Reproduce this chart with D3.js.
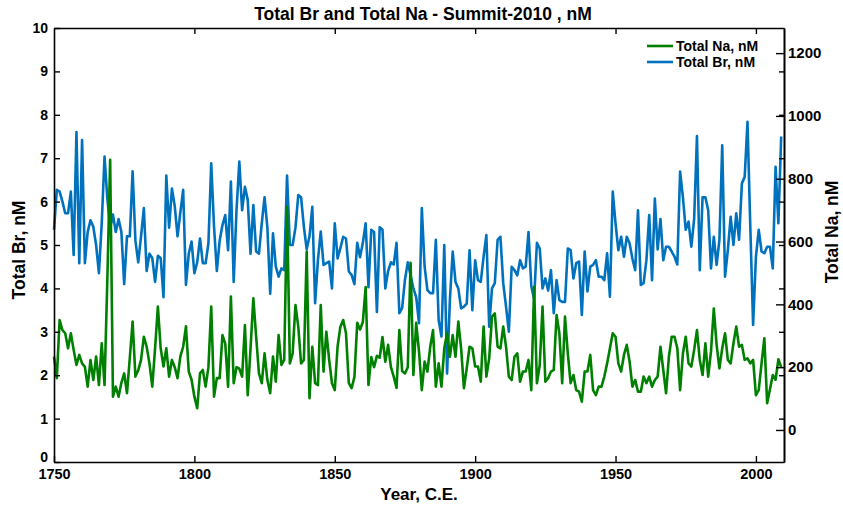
<!DOCTYPE html>
<html>
<head>
<meta charset="utf-8">
<script src="https://cdn.jsdelivr.net/npm/d3@7"></script>
<style>
  body { margin: 0; background: #fff; }
  svg text { font-family: "Liberation Sans", Arial, Helvetica, sans-serif; font-weight: bold; fill: #000; }
</style>
</head>
<body>
<div class="container_graph"></div>
<script>
// años 1750-2009, un valor por año
const firstYear = 1750;

// Total Br, nM (eje izquierdo)
const brValues = [
  5.35, 6.27, 6.23, 6.0, 5.73, 5.73, 6.23, 4.77, 7.6, 4.58,
  7.42, 4.58, 5.3, 5.57, 5.42, 5.0, 4.35, 5.5, 7.04, 6.07,
  5.4, 5.7, 5.3, 5.6, 5.3, 4.1, 5.2, 5.2, 6.7, 5.1,
  4.6, 5.2, 5.85, 4.4, 4.8, 4.7, 4.15, 4.75, 4.7, 3.8,
  6.6, 5.4, 6.3, 5.9, 5.2, 5.75, 6.27, 4.08, 4.8, 5.08,
  4.35, 4.6, 5.15, 4.58, 4.58, 5.04, 6.88, 5.42, 4.4, 5.1,
  5.46, 5.69, 4.88, 6.46, 4.15, 5.8, 6.92, 5.8, 6.34, 6.04,
  4.8, 5.92, 4.85, 4.8, 5.5, 6.1, 5.4, 3.88, 5.27, 4.5,
  4.27, 4.46, 4.42, 6.6, 5.0, 5.0, 5.4, 6.15, 6.1, 5.42,
  4.9, 5.2, 5.88, 3.66, 4.65, 5.31, 4.54, 4.58, 4.62, 4.0,
  5.5, 4.69, 4.93, 5.19, 5.15, 4.39, 4.31, 4.1, 5.05, 4.72,
  5.05, 5.5, 4.03, 5.35, 5.3, 3.46, 5.41, 5.35, 4.0, 4.4,
  4.6, 4.55, 5.05, 3.43, 3.55, 4.2, 4.6, 4.3, 4.0, 3.8,
  3.2, 5.85, 4.5, 3.96, 3.89, 3.89, 5.12, 3.27, 2.89, 5.0,
  2.04, 3.73, 4.85, 4.15, 4.0, 3.54, 3.58, 3.65, 4.88, 3.5,
  4.65, 4.19, 4.15, 4.73, 5.23, 3.12, 4.0, 4.12, 5.12, 5.19,
  4.12, 3.58, 3.0, 4.5, 4.42, 4.3, 4.65, 4.46, 4.5, 5.3,
  4.05, 3.75, 5.05, 4.92, 4.0, 4.23, 3.95, 4.42, 3.43, 4.19,
  3.73, 3.69, 3.69, 4.92, 4.88, 4.23, 4.58, 4.62, 3.39, 4.85,
  3.93, 4.5, 4.54, 4.65, 4.27, 4.27, 4.19, 4.81, 3.81, 6.23,
  5.5, 4.88, 5.19, 4.73, 5.19, 5.04, 4.69, 4.42, 5.8, 4.08,
  4.12, 4.65, 5.69, 4.19, 6.07, 4.9, 5.6, 4.65, 4.96, 4.96,
  4.85, 4.73, 4.55, 6.69, 6.1, 5.35, 5.54, 4.96, 5.6, 7.51,
  4.42, 6.1, 6.1, 5.8, 4.46, 5.19, 4.54, 5.12, 7.3, 4.27,
  4.88, 5.65, 5.0, 5.73, 5.12, 6.42, 6.57, 7.84, 5.42, 3.16,
  4.73, 5.35, 4.85, 4.81, 4.96, 4.96, 4.46, 6.8, 5.5, 7.5
];

// Total Na, nM (eje derecho)
const naValues = [
  234, 165, 350, 318, 308, 260, 308, 255, 207, 239,
  212, 201, 138, 223, 159, 234, 143, 276, 143, 480,
  860, 106, 138, 106, 150, 180, 117, 230, 345, 170,
  190, 223, 297, 265, 212, 138, 260, 393, 260, 202,
  260, 170, 223, 200, 165, 234, 265, 330, 186, 160,
  106, 69, 180, 191, 138, 200, 393, 106, 165, 165,
  302, 275, 138, 425, 149, 200, 195, 170, 334, 111,
  260, 419, 297, 180, 149, 244, 159, 117, 234, 154,
  302, 207, 223, 711, 212, 244, 398, 329, 212, 223,
  568, 101, 265, 149, 143, 398, 186, 313, 223, 149,
  127, 265, 329, 350, 308, 149, 133, 169, 341, 320,
  344, 455, 143, 232, 200, 236, 230, 296, 217, 271,
  200, 170, 134, 318, 188, 180, 200, 532, 175, 341,
  250, 127, 218, 186, 265, 318, 138, 212, 138, 260,
  308, 233, 302, 233, 345, 260, 133, 196, 265, 260,
  202, 202, 154, 329, 170, 228, 361, 371, 265, 260,
  329, 265, 170, 159, 233, 244, 154, 186, 186, 223,
  127, 456, 149, 207, 393, 154, 165, 186, 191, 366,
  308, 149, 361, 244, 149, 175, 127, 122, 90, 186,
  186, 239, 127, 111, 138, 138, 170, 212, 260, 308,
  297, 212, 186, 239, 271, 218, 138, 159, 122, 122,
  170, 149, 170, 138, 159, 170, 265, 191, 117, 233,
  297, 297, 260, 127, 244, 297, 212, 202, 255, 318,
  223, 175, 276, 170, 250, 387, 271, 196, 260, 308,
  223, 212, 276, 329, 265, 271, 223, 228, 212, 223,
  111, 127, 212, 292, 85, 130, 175, 160, 225, 200
];

const years = brValues.map((d, i) => firstYear + i);
const yearTicks = [1750, 1800, 1850, 1900, 1950, 2000];
const brTicks = [0, 1, 2, 3, 4, 5, 6, 7, 8, 9, 10];
const naTicks = [0, 200, 400, 600, 800, 1000, 1200];

const colorBr = "#0072bd";
const colorNa = "#008000";

// margen y dimensiones
const margin = { top: 28, right: 59, bottom: 47, left: 54 };
const width = 843 - margin.left - margin.right;
const height = 509 - margin.top - margin.bottom;

const svg = d3
  .select(".container_graph")
  .append("svg")
  .attr("width", 843)
  .attr("height", 509);

const g = svg
  .append("g")
  .attr("transform", `translate(${margin.left}, ${margin.top})`);

const xScale = d3.scaleLinear().domain([1750, 2010]).range([0, width]);
const yBr = d3.scaleLinear().domain([0, 10]).range([height, 0]);
const yNa = d3.scaleLinear().domain([-102, 1280]).range([height, 0]);

// lineas
const lineBr = d3
  .line()
  .x((d, i) => xScale(years[i]))
  .y((d) => yBr(d));

const lineNa = d3
  .line()
  .x((d, i) => xScale(years[i]))
  .y((d) => yNa(d));

g.append("path")
  .datum(brValues)
  .attr("fill", "none")
  .attr("stroke", colorBr)
  .attr("stroke-width", 2.6)
  .attr("stroke-linejoin", "round")
  .attr("d", lineBr);

g.append("path")
  .datum(naValues)
  .attr("fill", "none")
  .attr("stroke", colorNa)
  .attr("stroke-width", 2.6)
  .attr("stroke-linejoin", "round")
  .attr("d", lineNa);

// ejes
function styleAxis(sel, size) {
  sel.select(".domain").attr("stroke", "#000").attr("stroke-width", 1.6);
  sel.selectAll(".tick line").attr("stroke", "#000").attr("stroke-width", 1.4);
  sel.selectAll("text")
    .style("font-size", size + "px")
    .style("font-weight", "bold");
  sel.attr("font-family", null).attr("font-size", null);
}

const gx = g
  .append("g")
  .attr("transform", `translate(0, ${height})`)
  .call(
    d3.axisBottom(xScale).tickValues(yearTicks).tickFormat(d3.format("d"))
      .tickSizeInner(-6).tickSizeOuter(0).tickPadding(7)
  );
styleAxis(gx, 14.5);

const gxTop = g
  .append("g")
  .call(
    d3.axisTop(xScale).tickValues(yearTicks.slice(1)).tickFormat("")
      .tickSizeInner(-6).tickSizeOuter(0)
  );
styleAxis(gxTop, 14);

const gy = g
  .append("g")
  .call(
    d3.axisLeft(yBr).tickValues(brTicks).tickFormat(d3.format("d"))
      .tickSizeInner(-6).tickSizeOuter(0).tickPadding(6)
  );
styleAxis(gy, 14);
// el "0" un poco más arriba para no pisar "1750"
gy.selectAll(".tick text").filter((d) => d === 0).attr("y", -5);

const gyMirror = g
  .append("g")
  .attr("transform", `translate(${width}, 0)`)
  .call(
    d3.axisRight(yBr).tickValues(brTicks.slice(1, -1)).tickFormat("")
      .tickSizeInner(-5).tickSizeOuter(0)
  );
styleAxis(gyMirror, 14);

const gyNa = g
  .append("g")
  .attr("transform", `translate(${width}, 0)`)
  .call(
    d3.axisRight(yNa).tickValues(naTicks).tickFormat(d3.format("d"))
      .tickSizeInner(-8).tickSizeOuter(0).tickPadding(4)
  );
styleAxis(gyNa, 15);

// etiquetas
svg.append("text")
  .attr("x", 423)
  .attr("y", 20)
  .attr("text-anchor", "middle")
  .style("font-size", "17.5px")
  .text("Total Br and Total Na - Summit-2010 , nM");

svg.append("text")
  .attr("x", margin.left + width / 2)
  .attr("y", 500)
  .attr("text-anchor", "middle")
  .style("font-size", "17px")
  .text("Year, C.E.");

svg.append("text")
  .attr("transform", `translate(25, 250) rotate(-90)`)
  .attr("text-anchor", "middle")
  .style("font-size", "17.5px")
  .text("Total Br, nM");

svg.append("text")
  .attr("transform", `translate(838, 232) rotate(-90)`)
  .attr("text-anchor", "middle")
  .style("font-size", "17.5px")
  .text("Total Na, nM");

// leyenda
const legendItems = [
  { label: "Total Na, nM", color: colorNa },
  { label: "Total Br, nM", color: colorBr },
];

const legend = svg
  .append("g")
  .attr("transform", "translate(647, 46)");

legend
  .selectAll("line")
  .data(legendItems)
  .enter()
  .append("line")
  .attr("x1", 0)
  .attr("x2", 26)
  .attr("y1", (d, i) => i * 16)
  .attr("y2", (d, i) => i * 16)
  .attr("stroke", (d) => d.color)
  .attr("stroke-width", 2.6);

legend
  .selectAll("text")
  .data(legendItems)
  .enter()
  .append("text")
  .attr("x", 29)
  .attr("y", (d, i) => i * 16)
  .attr("dy", "0.35em")
  .style("font-size", "14px")
  .text((d) => d.label);
</script>
</body>
</html>
